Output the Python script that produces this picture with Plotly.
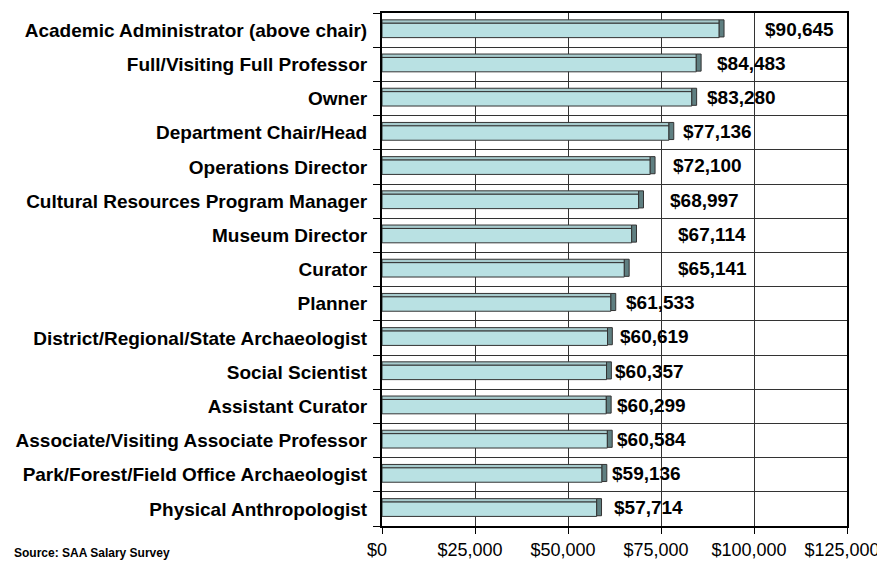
import plotly.graph_objects as go

categories = [
    "Academic Administrator (above chair)",
    "Full/Visiting Full Professor",
    "Owner",
    "Department Chair/Head",
    "Operations Director",
    "Cultural Resources Program Manager",
    "Museum Director",
    "Curator",
    "Planner",
    "District/Regional/State Archaeologist",
    "Social Scientist",
    "Assistant Curator",
    "Associate/Visiting Associate Professor",
    "Park/Forest/Field Office Archaeologist",
    "Physical Anthropologist",
]
salaries = [90645, 84483, 83280, 77136, 72100, 68997, 67114, 65141,
            61533, 60619, 60357, 60299, 60584, 59136, 57714]
x_ticks = [0, 25000, 50000, 75000, 100000, 125000]
x_tick_labels = ["$0", "$25,000", "$50,000", "$75,000", "$100,000", "$125,000"]

# pixel offsets of the value labels (style only)
label_shift = [44, 19, 13, 12, 21, 29, 44, 52, 13, 10, 6, 9, 8, 8, 15]

pos = list(range(len(categories)))
labels = ["${:,}".format(v) for v in salaries]
n = len(salaries)
line = dict(color="#333333", width=1)

fig = go.Figure()
# top face of 3D bar
fig.add_trace(go.Bar(
    y=pos, x=salaries, orientation="h", width=0.1, offset=-0.3,
    marker=dict(color="#A7CBCD", line=line),
    hoverinfo="skip", showlegend=False,
))
# front face
fig.add_trace(go.Bar(
    y=pos, x=salaries, orientation="h", width=0.42, offset=-0.2,
    marker=dict(color="#B9E1E3", line=line),
    hoverinfo="skip", showlegend=False,
))
# dark end cap
fig.add_trace(go.Bar(
    y=pos, x=[1300] * n, base=salaries, orientation="h", width=0.5, offset=-0.3,
    marker=dict(color="#5F7F81", line=line),
    hoverinfo="skip", showlegend=False,
))

for p, v, t, s in zip(pos, salaries, labels, label_shift):
    fig.add_annotation(
        x=v, y=p, text="<b>" + t + "</b>", xanchor="left", yanchor="middle",
        xshift=s, yshift=1, showarrow=False,
        font=dict(family="Liberation Sans, Arial", size=19, color="black"),
    )

# page body has an 8px margin, so the figure is made 8px smaller
fig.update_layout(
    width=877, height=554,
    margin=dict(l=374, r=38, t=5, b=36),
    plot_bgcolor="white", paper_bgcolor="white",
    barmode="overlay",
    font=dict(family="Liberation Sans, Arial", color="black"),
)
fig.update_xaxes(
    range=[0, 125000], tickvals=x_ticks, ticktext=x_tick_labels,
    showgrid=True, gridcolor="#333333", gridwidth=1,
    showline=True, linecolor="black", linewidth=2, mirror=True,
    ticks="outside", ticklen=6, tickcolor="black",
    tickfont=dict(size=18), zeroline=False, automargin=False,
    ticklabelshift=-5, ticklabeloverflow="allow",
)
fig.update_yaxes(
    range=[14.5, -0.5], tickvals=pos, ticktext=categories,
    showgrid=False, zeroline=False, automargin=False,
    showline=True, linecolor="black", linewidth=2, mirror=True,
    ticks="", tickfont=dict(size=19, weight="bold"), ticklabelstandoff=9,
    minor=dict(tick0=0.5, dtick=1, showgrid=True, gridcolor="#333333", gridwidth=1,
               ticks="outside", ticklen=7, tickcolor="black"),
)
fig.add_annotation(
    text="<b>Source: SAA Salary Survey</b>", xref="paper", yref="paper",
    x=0, y=0, xanchor="left", yanchor="bottom", xshift=-370, yshift=-36,
    showarrow=False, font=dict(size=12),
)
fig.write_html("out.html")
